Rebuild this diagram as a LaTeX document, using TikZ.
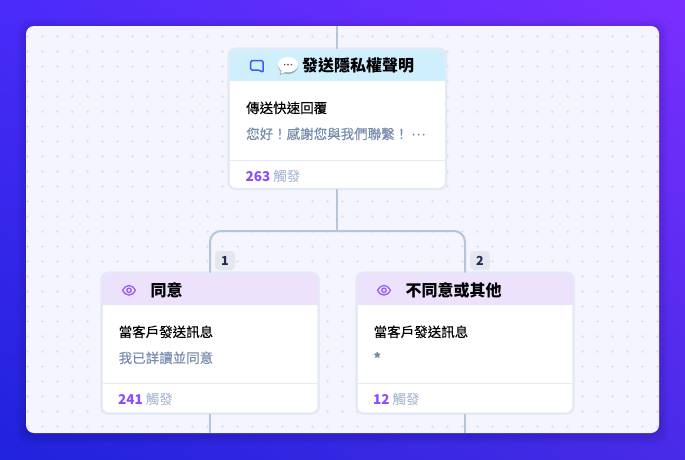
\documentclass[tikz,border=0pt]{standalone}
\usepackage{fontspec}
\usetikzlibrary{shadings}
\setmainfont{Noto Sans CJK TC}
\newfontfamily\medfont[FakeBold=0.05]{Noto Sans CJK TC}
\definecolor{panelbg}{HTML}{F4F5FE}
\definecolor{gridmark}{HTML}{DFE1EC}
\definecolor{cardline}{HTML}{E3E9F5}
\definecolor{flowline}{HTML}{B3C6DC}
\definecolor{headblue}{HTML}{CFEFFD}
\definecolor{headpurple}{HTML}{ECE2FC}
\definecolor{subtext}{HTML}{748AAC}
\definecolor{foottext}{HTML}{A0B2CE}
\definecolor{countpurple}{HTML}{8B4DFF}
\definecolor{badgebg}{HTML}{E3E8F0}
\definecolor{badgetext}{HTML}{1B2E4B}
\definecolor{eyepurple}{HTML}{9A5CF6}
\definecolor{chatblue}{HTML}{3A5BFF}
\definecolor{bgtl}{HTML}{4A2BF8}
\definecolor{bgtr}{HTML}{7A2EFF}
\definecolor{bgbl}{HTML}{2022DC}
\definecolor{bgbr}{HTML}{482BE8}
\tikzset{
  cardbox/.style={draw=cardline,line width=2pt,fill=white,rounded corners=7pt,rectangle,outer sep=0pt,inner sep=0pt},
  cardborder/.style={draw=cardline,line width=2pt,rounded corners=7pt},
  divider/.style={draw=cardline,line width=1pt},
  flow/.style={draw=flowline,line width=2pt},
  titletext/.style={anchor=base west,inner sep=0pt,font=\fontsize{16}{18}\selectfont\bfseries,text=black},
  bodytext/.style={anchor=base west,inner sep=0pt,font=\fontsize{13.5}{16}\selectfont\medfont,text=black},
  subtextstyle/.style={anchor=base west,inner sep=0pt,font=\fontsize{13.5}{16}\selectfont\medfont,text=subtext},
  foot/.style={anchor=base west,inner sep=0pt,font=\fontsize{13.5}{16}\selectfont,text=foottext},
  badge/.style={fill=badgebg,rounded corners=4pt,minimum width=20pt,minimum height=19pt,inner sep=0pt,text=badgetext,font=\fontsize{12.5}{14}\selectfont\bfseries},
  eyeicon/.style={draw=eyepurple,line width=1.3pt},
}
% name, left, right, top, header bottom, divider, bottom, header colour
\newcommand\flowcard[8]{%
  \node[cardbox,minimum width=#3pt-#2pt,minimum height=#7pt-#4pt] (#1) at ({(#2+#3)/2},{(#4+#7)/2}) {};
  \begin{scope}
    \clip[rounded corners=7pt] (#2,#4) rectangle (#3,#7);
    \fill[#8] (#2,#4) rectangle (#3,#5);
    \draw[divider] (#2,#6) -- (#3,#6);
  \end{scope}
  \draw[cardborder] (#2,#4) rectangle (#3,#7);
}
\newcommand\eyeglyph[2]{%
  \draw[eyeicon] ({#1-6.4},#2) .. controls ({#1-3},{#2-6.4}) and ({#1+3},{#2-6.4}) .. ({#1+6.4},#2)
     .. controls ({#1+3},{#2+6.4}) and ({#1-3},{#2+6.4}) .. ({#1-6.4},#2) -- cycle;
  \draw[eyeicon] (#1,#2) circle (2.2pt);
}
\begin{document}
\begin{tikzpicture}[x=1pt,y=-1pt]
\useasboundingbox (0,0) rectangle (685,459);
\clip (0,0) rectangle (685,459);
\shade[upper left=bgtl,upper right=bgtr,lower left=bgbl,lower right=bgbr]
  (0,0) rectangle (685,459);
% panel shadow
\foreach \s in {9,7.5,6,4.5,3,1.5}{
  \fill[black,opacity=0.018,rounded corners=10pt] ({26-\s},{26-\s+2}) rectangle ({659+\s},{433+\s+2});
}
\fill[panelbg,rounded corners=8pt] (26,26) rectangle (659,433);
% dotted plus grid
\begin{scope}
  \clip[rounded corners=8pt] (26,26) rectangle (659,433);
  \foreach \gx in {0,...,42}{
    \foreach \gy in {0,...,26}{
      \draw[gridmark,line width=0.7pt] ({27.3+15*\gx-1.6},{36.3+15*\gy}) -- ++(3.2,0)
        ({27.3+15*\gx},{36.3+15*\gy-1.6}) -- ++(0,3.2);
    }
  }
\end{scope}

% cards
\flowcard{privacy}{228.5}{446}{48.7}{81}{160.5}{189}{headblue}
\flowcard{agree}{101.5}{318.5}{272.7}{305}{383.5}{413.5}{headpurple}
\flowcard{other}{356.5}{573.5}{272.7}{305}{383.5}{413.5}{headpurple}

% connectors
\coordinate (stemtop) at (337,26);
\coordinate (junction) at (337,231);
\coordinate (agreeout) at (210,433);
\coordinate (otherout) at (465,433);
\draw[flow] (stemtop) -- (privacy.north -| stemtop);
\draw[flow] (privacy.south -| stemtop) -- (junction);
\draw[flow,rounded corners=11pt] (agree.north -| agreeout) |- (junction) -| (other.north -| otherout);
\draw[flow] (agree.south -| agreeout) -- (agreeout);
\draw[flow] (other.south -| otherout) -- (otherout);

% badges
\node[badge] (badgeone) at (225,260.5) {1};
\node[badge] (badgetwo) at (480,260.5) {2};

% privacy card contents
\draw[chatblue,line width=1.5pt,line join=round,rounded corners=1.5pt] (250.6,60.6) -- (263.2,60.6) -- (263.2,72.6) -- (259.8,70.2) -- (250.6,70.2) -- cycle;
\fill[black,opacity=0.3] (288,66) ellipse (10pt and 8pt);
\fill[black!30] (281,70) -- (279.5,75.5) -- (287,72) -- cycle;
\fill[white] (288,64.6) ellipse (10pt and 7.8pt);
\fill[white] (282,69) -- (281,73.8) -- (287,71) -- cycle;
\fill[black!65] (284.6,64.6) circle (0.9pt) (288,64.6) circle (0.9pt) (291.4,64.6) circle (0.9pt);
\node[titletext] (privacytitle) at (302,71) {發送隱私權聲明};
\node[bodytext] (privacybody) at (246,113) {傳送快速回覆};
\node[subtextstyle] (privacysub) at (246,139) {您好！感謝您與我們聯繫！ \raisebox{3.6pt}{⋯}};
\node[foot] (privacyfoot) at (245.5,181) {\textcolor{countpurple}{\bfseries 263} 觸發};

% agree card contents
\eyeglyph{129}{290.3}
\node[titletext] (agreetitle) at (150.5,296) {同意};
\node[bodytext] (agreebody) at (118.5,337) {當客戶發送訊息};
\node[subtextstyle] (agreesub) at (118.5,363) {我已詳讀並同意};
\node[foot] (agreefoot) at (118,404) {\textcolor{countpurple}{\bfseries 241} 觸發};

% other card contents
\eyeglyph{384}{290.3}
\node[titletext] (othertitle) at (405.5,296) {不同意或其他};
\node[bodytext] (otherbody) at (373.5,337) {當客戶發送訊息};
\node[subtextstyle] (othersub) at (373.5,363) {\bfseries *};
\node[foot] (otherfoot) at (373,404) {\textcolor{countpurple}{\bfseries 12} 觸發};
\end{tikzpicture}
\end{document}
